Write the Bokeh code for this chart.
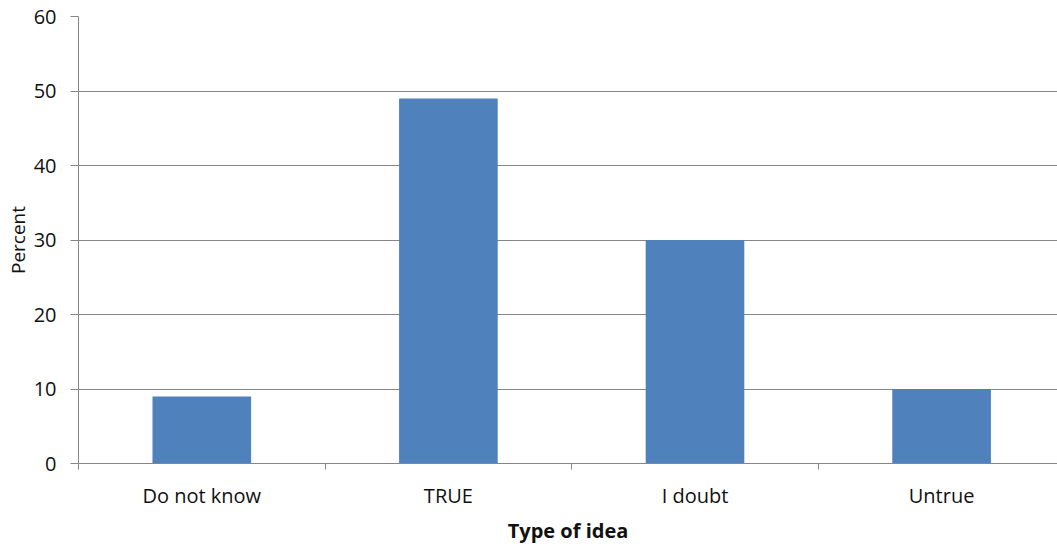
from bokeh.plotting import figure
from bokeh.models import FixedTicker, Range1d, ColumnDataSource
from bokeh.embed import file_html
from bokeh.resources import INLINE

categories = ["Do not know", "TRUE", "I doubt", "Untrue"]
percent = [9, 49, 30, 10]
y_ticks = [0, 10, 20, 30, 40, 50, 60]

centers = [i + 0.5 for i in range(len(categories))]
source = ColumnDataSource(dict(x=centers, top=percent))

FONT = "Open Sans"
GRID = "#868686"
TEXT = "#111111"

p = figure(width=1057, height=546, output_backend="svg", toolbar_location=None,
           x_range=Range1d(0, 3.97), y_range=Range1d(0, 60),
           min_border_left=78, min_border_right=0, min_border_top=16, min_border_bottom=83)
p.outline_line_color = None
p.background_fill_color = "white"
p.border_fill_color = "white"

p.vbar(x="x", top="top", width=0.4, source=source, fill_color="#4F81BD", line_color=None)

# x axis
xa = p.xaxis[0]
xa.ticker = FixedTicker(ticks=centers, minor_ticks=list(range(len(categories) + 1)))
xa.major_label_overrides = {c: lab for c, lab in zip(centers, categories)}
xa.major_tick_line_color = None
xa.minor_tick_line_color = GRID
xa.minor_tick_in = 0
xa.minor_tick_out = 6
xa.axis_line_color = GRID
xa.major_label_text_font = FONT
xa.major_label_text_font_size = "20px"
xa.major_label_text_color = TEXT
xa.major_label_standoff = 12
xa.axis_label = "Type of idea"
xa.axis_label_text_font = FONT
xa.axis_label_text_font_size = "20px"
xa.axis_label_text_font_style = "bold"
xa.axis_label_text_color = TEXT
xa.axis_label_standoff = 5

# y axis
ya = p.yaxis[0]
ya.ticker = FixedTicker(ticks=y_ticks)
ya.minor_tick_line_color = None
ya.major_tick_line_color = GRID
ya.major_tick_in = 0
ya.major_tick_out = 8
ya.axis_line_color = GRID
ya.major_label_text_font = FONT
ya.major_label_text_font_size = "20px"
ya.major_label_text_color = TEXT
ya.major_label_standoff = 14
ya.axis_label = "Percent"
ya.axis_label_text_font = FONT
ya.axis_label_text_font_size = "19px"
ya.axis_label_text_font_style = "normal"
ya.axis_label_text_color = TEXT
ya.axis_label_standoff = 0

p.xgrid.grid_line_color = None
p.ygrid.ticker = FixedTicker(ticks=y_ticks[1:])
p.ygrid.grid_line_color = GRID
p.ygrid.grid_line_width = 1

open("out.html", "w").write(file_html(p, INLINE))
